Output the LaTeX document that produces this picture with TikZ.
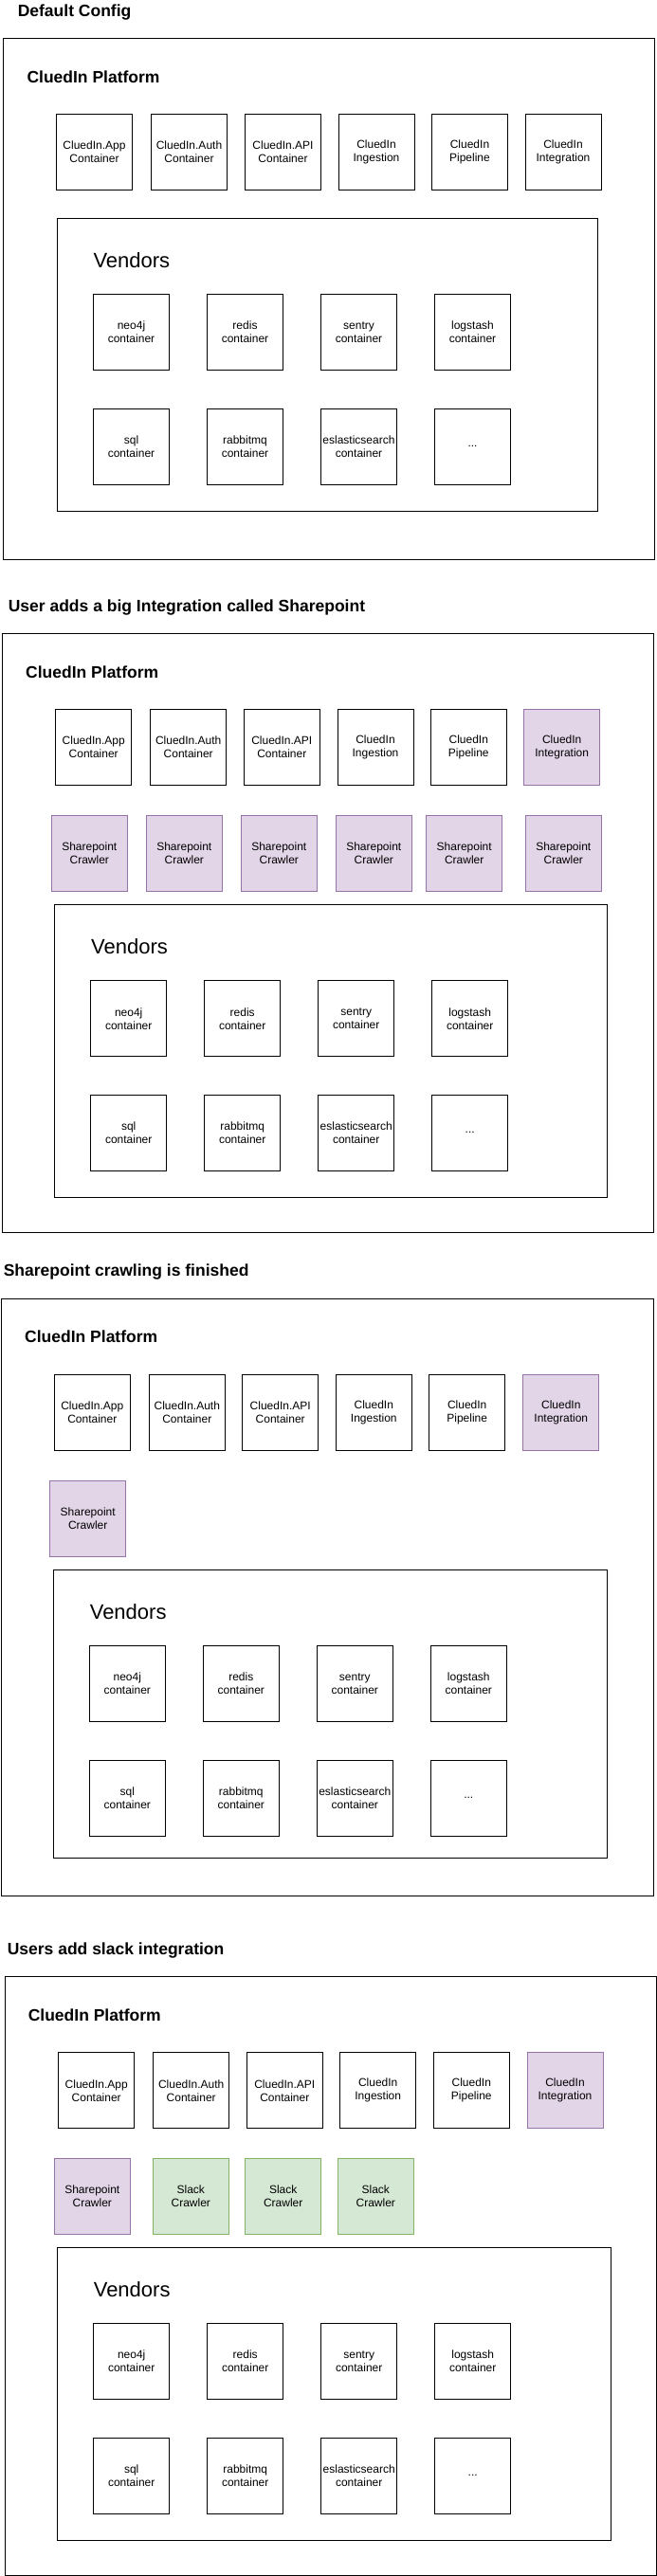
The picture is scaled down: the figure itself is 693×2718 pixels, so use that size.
\documentclass[tikz,border=0pt]{standalone}
\usepackage{fontspec}
\setmainfont{Liberation Sans}
\definecolor{spfill}{HTML}{E1D5E7}
\definecolor{spline}{HTML}{9673A6}
\definecolor{slfill}{HTML}{D5E8D4}
\definecolor{slline}{HTML}{82B366}
\begin{document}
\begin{tikzpicture}[x=1pt,y=-1pt,line width=1pt,
        heading/.style={anchor=base west,inner sep=0pt,font=\fontsize{17.5}{21}\selectfont\bfseries},
        vendtitle/.style={anchor=base west,inner sep=0pt,font=\fontsize{22}{26}\selectfont},
        box/.style={draw,anchor=north west,minimum width=80pt,minimum height=80pt,inner sep=0pt,outer sep=0pt,align=center,font=\fontsize{12}{14}\selectfont},
        spbox/.style={box,draw=spline,fill=spfill},
        slbox/.style={box,draw=slline,fill=slfill}]
        
        \useasboundingbox (0,0) rectangle (693,2718);
        
        % titles
        \node[heading] (t-dc) at (18.3,17) {Default Config};
        \node[heading] (t-sp) at (8.3,645) {User adds a big Integration called Sharepoint};
        \node[heading] (t-fin) at (3.3,1346.7) {Sharepoint crawling is finished};
        \node[heading] (t-sl) at (7.3,2062.3) {Users add slack integration};
        
        % default config
        \begin{scope}[shift={(3.5,40)}]
        \draw (0,0) rectangle (687,550.3);
        \node[heading] (dc-plat) at (24.5,47) {CluedIn Platform};
        \foreach \x/\a/\b [count=\i] in {56/CluedIn.App/Container,156/CluedIn.Auth/Container,255/CluedIn.API/Container,353.5/CluedIn/Ingestion,452/CluedIn/Pipeline,550.5/CluedIn/Integration}
        \node[box] (dc-top\i) at (\x,80.7) {\a\\\b};
        \draw (57,190) rectangle (627,499.3);
        \node[vendtitle] (dc-vend) at (94.5,242.4) {Vendors};
        \foreach \a [count=\i] in {neo4j,redis,sentry,logstash}
        \node[box] (dc-ven\i) at ({95+120*(\i-1)},270.4) {\a\\container};
        \foreach \a [count=\i from 5] in {sql,rabbitmq,eslasticsearch}
        \node[box] (dc-ven\i) at ({95+120*(\i-5)},391) {\a\\container};
        \node[box] (dc-ven8) at (455,391) {...};
        \end{scope}
        
        % sharepoint added
        \begin{scope}[shift={(2.7,668.3)}]
        \draw (0,0) rectangle (686.6,632);
        \node[heading] (sp-plat) at (24,46.7) {CluedIn Platform};
        \foreach \x/\a/\b [count=\i] in {56/CluedIn.App/Container,156/CluedIn.Auth/Container,254.6/CluedIn.API/Container,353.3/CluedIn/Ingestion,451.6/CluedIn/Pipeline}
        \node[box] (sp-top\i) at (\x,80) {\a\\\b};
        \node[spbox] (sp-top6) at (550,80) {CluedIn\\Integration};
        \foreach \x [count=\i] in {51.6,151.6,251.6,351.6,447,551.6}
        \node[spbox] (sp-crw\i) at (\x,192) {Sharepoint\\Crawler};
        \draw (54.6,286) rectangle (637.6,595);
        \node[vendtitle] (sp-vend) at (93,338.4) {Vendors};
        \foreach \a [count=\i] in {neo4j,redis,sentry,logstash}
        \node[box] (sp-ven\i) at ({93+120*(\i-1)},366.4) {\a\\container};
        \foreach \a [count=\i from 5] in {sql,rabbitmq,eslasticsearch}
        \node[box] (sp-ven\i) at ({93+120*(\i-5)},487) {\a\\container};
        \node[box] (sp-ven8) at (453,487) {...};
        \end{scope}
        
        % crawling finished
        \begin{scope}[shift={(1.3,1370.7)}]
        \draw (0,0) rectangle (687.7,629.6);
        \node[heading] (fin-plat) at (24.4,46) {CluedIn Platform};
        \foreach \x/\a/\b [count=\i] in {56/CluedIn.App/Container,156/CluedIn.Auth/Container,254.4/CluedIn.API/Container,353/CluedIn/Ingestion,451.4/CluedIn/Pipeline}
        \node[box] (fin-top\i) at (\x,79.6) {\a\\\b};
        \node[spbox] (fin-top6) at (550.5,79.6) {CluedIn\\Integration};
        \node[spbox] (fin-crw1) at (51.4,191.6) {Sharepoint\\Crawler};
        \draw (55,285.6) rectangle (639,589.6);
        \node[vendtitle] (fin-vend) at (93,338) {Vendors};
        \foreach \a [count=\i] in {neo4j,redis,sentry,logstash}
        \node[box] (fin-ven\i) at ({93+120*(\i-1)},365.6) {\a\\container};
        \foreach \a [count=\i from 5] in {sql,rabbitmq,eslasticsearch}
        \node[box] (fin-ven\i) at ({93+120*(\i-5)},486.6) {\a\\container};
        \node[box] (fin-ven8) at (453,486.6) {...};
        \end{scope}
        
        % slack added
        \begin{scope}[shift={(5.3,2085.7)}]
        \draw (0,0) rectangle (687.2,631.3);
        \node[heading] (sl-plat) at (24,46.6) {CluedIn Platform};
        \foreach \x/\a/\b [count=\i] in {56.4/CluedIn.App/Container,156.4/CluedIn.Auth/Container,255/CluedIn.API/Container,353.4/CluedIn/Ingestion,452/CluedIn/Pipeline}
        \node[box] (sl-top\i) at (\x,80) {\a\\\b};
        \node[spbox] (sl-top6) at (550.7,80) {CluedIn\\Integration};
        \node[spbox] (sl-crw1) at (52,191.6) {Sharepoint\\Crawler};
        \foreach \x [count=\i from 2] in {156,253.4,351}
        \node[slbox] (sl-crw\i) at (\x,191.6) {Slack\\Crawler};
        \draw (55,285.6) rectangle (638.7,594.3);
        \node[vendtitle] (sl-vend) at (93,338) {Vendors};
        \foreach \a [count=\i] in {neo4j,redis,sentry,logstash}
        \node[box] (sl-ven\i) at ({93.4+120*(\i-1)},365.6) {\a\\container};
        \foreach \a [count=\i from 5] in {sql,rabbitmq,eslasticsearch}
        \node[box] (sl-ven\i) at ({93.4+120*(\i-5)},486.6) {\a\\container};
        \node[box] (sl-ven8) at (453.4,486.6) {...};
        \end{scope}
        
\end{tikzpicture}
\end{document}
